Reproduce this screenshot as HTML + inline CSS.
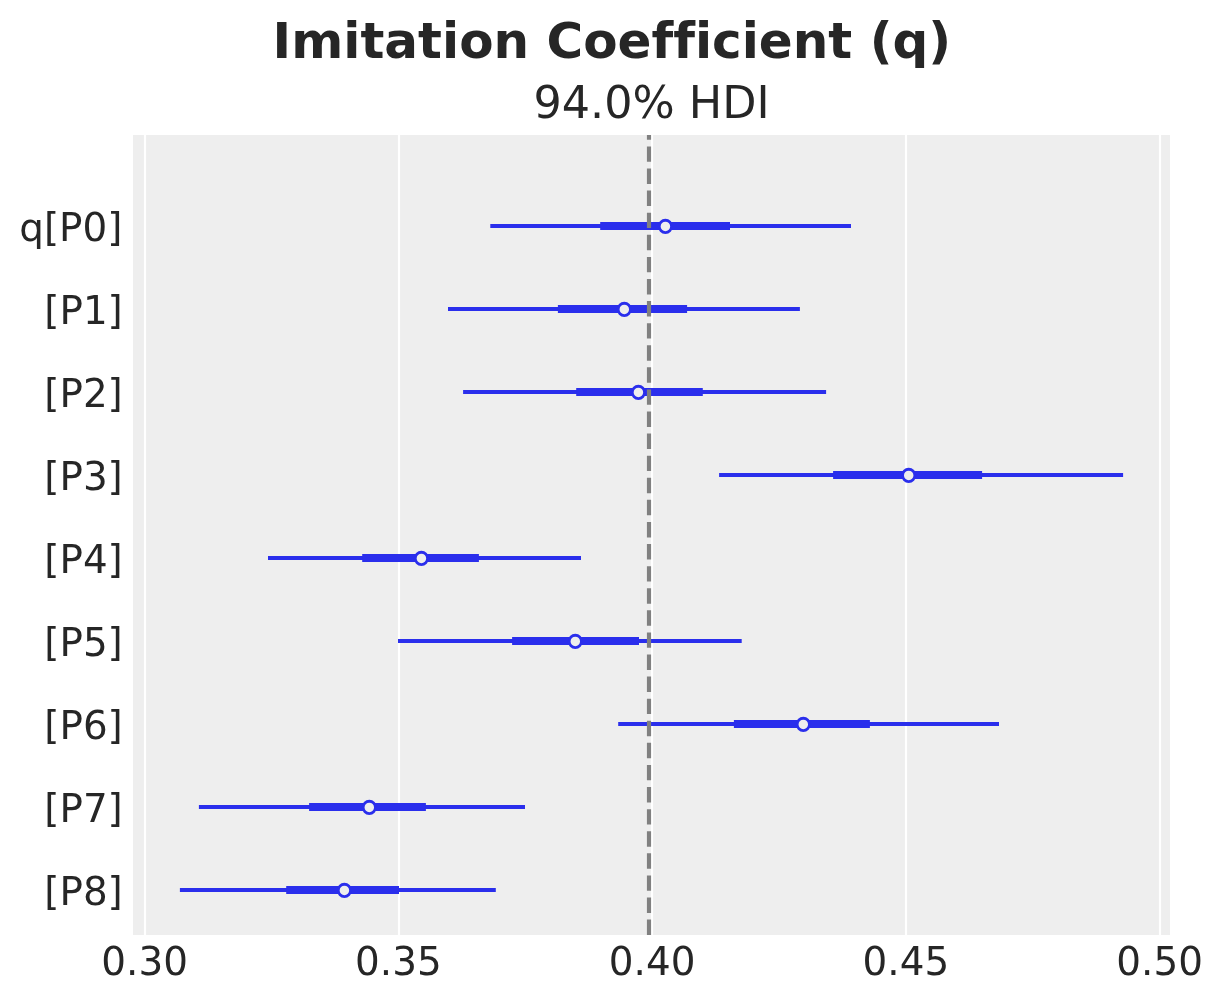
<!DOCTYPE html>
<html lang="en">
<head>
<meta charset="utf-8">
<title>Imitation Coefficient (q)</title>
<style>
html,body{margin:0;padding:0;background:#ffffff;}
body{width:1223px;height:1003px;overflow:hidden;}
svg{display:block;}
text{font-family:"DejaVu Sans","Liberation Sans",sans-serif;fill:#262626;font-variant-ligatures:none;font-feature-settings:"liga" 0,"clig" 0,"kern" 1;}
.title{font-weight:bold;font-size:50px;}
.sub{font-size:44.44px;}
.tick{font-size:38.89px;}
</style>
</head>
<body>
<svg width="1223" height="1003" viewBox="0 0 1223 1003">
<rect x="0" y="0" width="1223" height="1003" fill="#ffffff"/>
<rect x="133" y="135" width="1037" height="800" fill="#eeeeee"/>
<g fill="#ffffff">
<rect x="143.90" y="135" width="2.2" height="800"/>
<rect x="397.90" y="135" width="2.2" height="800"/>
<rect x="650.90" y="135" width="2.2" height="800"/>
<rect x="904.90" y="135" width="2.2" height="800"/>
<rect x="1158.90" y="135" width="2.2" height="800"/>
</g>
<g stroke="#2a2eec" fill="none" stroke-linecap="butt">
<line x1="490.3" y1="226" x2="851.0" y2="226" stroke-width="4"/>
<line x1="600.2" y1="226" x2="730.0" y2="226" stroke-width="8"/>
<line x1="448.0" y1="309" x2="799.9" y2="309" stroke-width="4"/>
<line x1="557.9" y1="309" x2="687.1" y2="309" stroke-width="8"/>
<line x1="463.1" y1="392" x2="826.1" y2="392" stroke-width="4"/>
<line x1="576.2" y1="392" x2="702.8" y2="392" stroke-width="8"/>
<line x1="719.1" y1="475" x2="1123.1" y2="475" stroke-width="4"/>
<line x1="833.1" y1="475" x2="982.1" y2="475" stroke-width="8"/>
<line x1="268.0" y1="558" x2="581.0" y2="558" stroke-width="4"/>
<line x1="362.2" y1="558" x2="478.9" y2="558" stroke-width="8"/>
<line x1="398.0" y1="641" x2="741.7" y2="641" stroke-width="4"/>
<line x1="512.1" y1="641" x2="639.0" y2="641" stroke-width="8"/>
<line x1="618.2" y1="724" x2="999.0" y2="724" stroke-width="4"/>
<line x1="733.9" y1="724" x2="869.9" y2="724" stroke-width="8"/>
<line x1="198.9" y1="807" x2="525.0" y2="807" stroke-width="4"/>
<line x1="309.1" y1="807" x2="425.9" y2="807" stroke-width="8"/>
<line x1="179.9" y1="890" x2="495.8" y2="890" stroke-width="4"/>
<line x1="286.2" y1="890" x2="399.0" y2="890" stroke-width="8"/>
</g>
<line x1="649" y1="935" x2="649" y2="135" stroke="#808080" stroke-width="4.17" stroke-dasharray="15.42 6.67"/>
<g stroke="#2a2eec" fill="#eeeeee" stroke-width="2.78">
<circle cx="665.4" cy="226.4" r="6.14"/>
<circle cx="624.3" cy="309.4" r="6.14"/>
<circle cx="638.4" cy="392.4" r="6.14"/>
<circle cx="908.7" cy="475.4" r="6.14"/>
<circle cx="421.4" cy="558.4" r="6.14"/>
<circle cx="575.3" cy="641.4" r="6.14"/>
<circle cx="803.3" cy="724.4" r="6.14"/>
<circle cx="369.3" cy="807.4" r="6.14"/>
<circle cx="344.4" cy="890.4" r="6.14"/>
</g>
<text class="title" x="611.9" y="58" text-anchor="middle">Imitation Coefficient (q)</text>
<text class="sub" x="651.5" y="118.2" text-anchor="middle">94.0% HDI</text>
<text class="tick" x="122.4" y="240.8" text-anchor="end">q[P0]</text>
<text class="tick" x="122.8" y="323.8" text-anchor="end">[P1]</text>
<text class="tick" x="122.8" y="406.8" text-anchor="end">[P2]</text>
<text class="tick" x="122.8" y="489.8" text-anchor="end">[P3]</text>
<text class="tick" x="122.8" y="572.8" text-anchor="end">[P4]</text>
<text class="tick" x="122.8" y="655.8" text-anchor="end">[P5]</text>
<text class="tick" x="122.8" y="738.8" text-anchor="end">[P6]</text>
<text class="tick" x="122.8" y="821.8" text-anchor="end">[P7]</text>
<text class="tick" x="122.8" y="904.8" text-anchor="end">[P8]</text>
<text class="tick" x="144.60" y="975.2" text-anchor="middle">0.30</text>
<text class="tick" x="398.35" y="975.2" text-anchor="middle">0.35</text>
<text class="tick" x="652.10" y="975.2" text-anchor="middle">0.40</text>
<text class="tick" x="905.85" y="975.2" text-anchor="middle">0.45</text>
<text class="tick" x="1159.60" y="975.2" text-anchor="middle">0.50</text>
</svg>
</body>
</html>
